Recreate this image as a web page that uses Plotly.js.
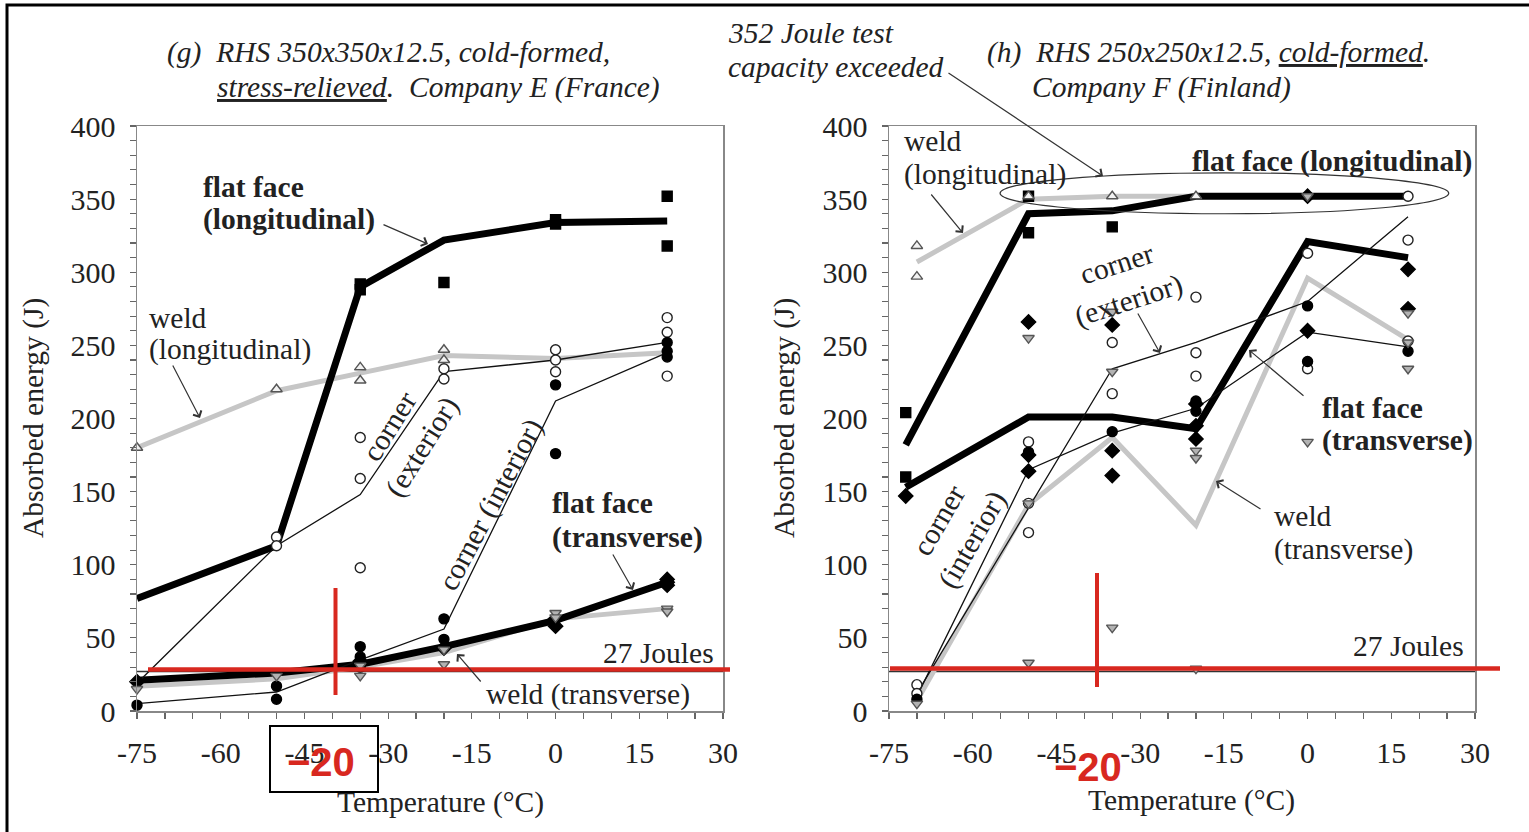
<!DOCTYPE html>
<html>
<head>
<meta charset="utf-8">
<script src="https://cdn.plot.ly/plotly-3.0.1.min.js"></script>
<style>html,body{margin:0;padding:0;background:#fff;}#chart{width:1529px;height:832px;}</style>
</head>
<body>
<div id="chart"></div>
<script>
// ---------- DATA ----------
// Panel (g): RHS 350x350x12.5, cold-formed, stress-relieved, Company E (France)
const g_ffl_line_x = [-75,-50,-35,-20,0,20];
const g_ffl_line_y = [77,113,290,322,334,335];
const g_ffl_pts_x = [-35,-35,-20,0,0,20,20];
const g_ffl_pts_y = [292,288,293,336,333,352,318];

const g_wl_line_x = [-75,-50,-35,-20,0,20];
const g_wl_line_y = [180,219,231,243,241,245];
const g_wl_pts_x = [-75,-50,-35,-35,-20,-20];
const g_wl_pts_y = [180,220,235,226,247,240];

const g_ce_line_x = [-75,-50,-35,-20,0,20];
const g_ce_line_y = [19,113,148,232,240,252];
const g_ce_pts_x = [-50,-50,-35,-35,-35,-20,-20,0,0,0,20,20,20];
const g_ce_pts_y = [119,113,187,159,98,234,227,247,240,232,269,259,229];

const g_ci_line_x = [-75,-50,-35,-20,0,20];
const g_ci_line_y = [5,13,35,56,212,245];
const g_ci_pts_x = [-75,-50,-50,-35,-35,-35,-20,-20,0,0,20,20,20];
const g_ci_pts_y = [4,17,8,44,37,30,63,49,223,176,252,242,246];

const g_fft_line_x = [-75,-50,-35,-20,0,20];
const g_fft_line_y = [21,26,32,44,62,88];
const g_fft_pts_x = [-75,-35,-20,0,0,20,20,20];
const g_fft_pts_y = [20,34,43,58,63,90,86,88];

const g_wt_line_x = [-75,-50,-35,-20,0,20];
const g_wt_line_y = [17,22,30,40,63,70];
const g_wt_pts_x = [-75,-50,-35,-35,-20,-20,0,0,20,20];
const g_wt_pts_y = [15,24,24,31,32,42,67,64,70,68];

// Panel (h): RHS 250x250x12.5, cold-formed, Company F (Finland)
const h_ffl_line_x = [-72,-50,-35,-20,0,18];
const h_ffl_line_y = [182,340,342,352,352,352];
const h_ffl_pts_x = [-72,-72,-50,-50,-35];
const h_ffl_pts_y = [204,160,352,327,331];

const h_wl_line_x = [-70,-50,-35,-20,0,18];
const h_wl_line_y = [307,350,352,352,352,352];
const h_wl_pts_x = [-70,-70,-50,-35,-20];
const h_wl_pts_y = [318,297,352,352,352];

const h_fft_line_x = [-72,-50,-35,-20,0,18];
const h_fft_line_y = [153,201,201,193,321,310];
const h_fft_pts_x = [-72,-50,-50,-50,-35,-35,-35,-20,-20,-20,0,0,18,18];
const h_fft_pts_y = [147,266,175,164,264,178,161,210,195,186,260,352,302,275];

const h_ce_line_x = [-70,-35,-20,0,18];
const h_ce_line_y = [12,234,252,280,338];
const h_ce_pts_x = [-70,-70,-50,-50,-50,-35,-35,-20,-20,-20,0,0,18,18,18];
const h_ce_pts_y = [18,12,184,142,122,252,217,283,245,229,313,234,322,253,352];

const h_ci_line_x = [-70,-50,-35,-20,0,18];
const h_ci_line_y = [10,165,190,207,259,249];
const h_ci_pts_x = [-70,-50,-35,-20,-20,0,0,18];
const h_ci_pts_y = [8,177,191,212,205,277,239,246];

const h_wt_line_x = [-70,-50,-35,-20,0,18];
const h_wt_line_y = [7,141,187,127,296,254];
const h_wt_pts_x = [-70,-50,-50,-50,-35,-35,-35,-20,-20,-20,0,0,18,18,18];
const h_wt_pts_y = [5,255,142,33,273,232,57,178,173,29,352,184,272,234,252];

const x_tick_vals = [-75,-60,-45,-30,-15,0,15,30];
const x_tick_text = ['-75','-60','-45','-30','-15','0','15','30'];
const y_tick_vals = [0,50,100,150,200,250,300,350,400];
const y_tick_text = ['0','50','100','150','200','250','300','350','400'];
const limit_27J = 27;

// ---------- STYLE / HELPERS ----------
const W = 1529, H = 832;
const P = x => x / W;
const Q = y => 1 - y / H;
const SERIF = 'Liberation Serif, Times New Roman, serif';
const FS = 29.5;
const TXT = '#222';
const GRAY_LINE = '#c6c6c6';

function lineTr(x, y, color, width, xa, ya) {
  return {x, y, xaxis: xa, yaxis: ya, type: 'scatter', mode: 'lines',
    line: {color, width, shape: 'linear'}, hoverinfo: 'skip', cliponaxis: false};
}
function markTr(x, y, symbol, fill, lc, size, xa, ya) {
  return {x, y, xaxis: xa, yaxis: ya, type: 'scatter', mode: 'markers',
    marker: {symbol, color: fill, size, line: {color: lc, width: 1.4}}, hoverinfo: 'skip', cliponaxis: false};
}
function panel(p, xa, ya) {
  return {
    lines: [
      lineTr(p.wl[0], p.wl[1], GRAY_LINE, 5, xa, ya),
      lineTr(p.wt[0], p.wt[1], GRAY_LINE, 5, xa, ya),
      lineTr(p.ffl[0], p.ffl[1], '#000', 7, xa, ya),
      lineTr(p.fft[0], p.fft[1], '#000', 7, xa, ya),
      lineTr(p.ce[0], p.ce[1], '#111', 1.3, xa, ya),
      lineTr(p.ci[0], p.ci[1], '#111', 1.3, xa, ya)
    ],
    marks: [
      markTr(p.ce[2], p.ce[3], 'circle', '#fff', '#222', 10, xa, ya),
      markTr(p.ci[2], p.ci[3], 'circle', '#000', '#000', 10, xa, ya),
      markTr(p.ffl[2], p.ffl[3], 'square', '#000', '#000', 10, xa, ya),
      markTr(p.fft[2], p.fft[3], 'diamond', '#000', '#000', 11, xa, ya),
      markTr(p.wl[2], p.wl[3], 'triangle-up', '#f2f2f2', '#555', 10, xa, ya),
      markTr(p.wt[2], p.wt[3], 'triangle-down', '#b3b3b3', '#555', 10, xa, ya)
    ]
  };
}
const pg = panel({
  ffl: [g_ffl_line_x, g_ffl_line_y, g_ffl_pts_x, g_ffl_pts_y],
  wl: [g_wl_line_x, g_wl_line_y, g_wl_pts_x, g_wl_pts_y],
  ce: [g_ce_line_x, g_ce_line_y, g_ce_pts_x, g_ce_pts_y],
  ci: [g_ci_line_x, g_ci_line_y, g_ci_pts_x, g_ci_pts_y],
  fft: [g_fft_line_x, g_fft_line_y, g_fft_pts_x, g_fft_pts_y],
  wt: [g_wt_line_x, g_wt_line_y, g_wt_pts_x, g_wt_pts_y]
}, 'x', 'y');
const ph = panel({
  ffl: [h_ffl_line_x, h_ffl_line_y, h_ffl_pts_x, h_ffl_pts_y],
  wl: [h_wl_line_x, h_wl_line_y, h_wl_pts_x, h_wl_pts_y],
  ce: [h_ce_line_x, h_ce_line_y, h_ce_pts_x, h_ce_pts_y],
  ci: [h_ci_line_x, h_ci_line_y, h_ci_pts_x, h_ci_pts_y],
  fft: [h_fft_line_x, h_fft_line_y, h_fft_pts_x, h_fft_pts_y],
  wt: [h_wt_line_x, h_wt_line_y, h_wt_pts_x, h_wt_pts_y]
}, 'x2', 'y2');
const data = [...pg.lines, ...ph.lines, ...pg.marks, ...ph.marks];

function xAxis(domain, anchor) {
  return {domain, anchor, range: [-75, 30], tickmode: 'array', tickvals: x_tick_vals, ticktext: x_tick_text,
    ticks: 'outside', ticklen: 6, tickwidth: 1.2, tickcolor: '#666',
    minor: {tickmode: 'linear', tick0: -75, dtick: 5, ticks: 'outside', ticklen: 6, tickwidth: 1.2, tickcolor: '#666'},
    showline: true, linecolor: '#888', linewidth: 1.5, mirror: true, showgrid: false, zeroline: false,
    tickfont: {family: SERIF, size: 30, color: TXT}, ticklabelstandoff: 8, fixedrange: true};
}
function yAxis(anchor) {
  return {domain: [1 - 711 / H, 1 - 126 / H], anchor, range: [0, 400], tickmode: 'array', tickvals: y_tick_vals, ticktext: y_tick_text,
    ticks: 'outside', ticklen: 6, tickwidth: 1.2, tickcolor: '#666',
    minor: {tickmode: 'linear', tick0: 0, dtick: 10, ticks: 'outside', ticklen: 6, tickwidth: 1.2, tickcolor: '#666'},
    showline: true, linecolor: '#888', linewidth: 1.5, mirror: true, showgrid: false, zeroline: false,
    tickfont: {family: SERIF, size: 30, color: TXT}, ticklabelstandoff: 8, fixedrange: true};
}

const RED = '#d8281f';
const shapes = [
  // 27 J requirement lines
  {type: 'line', xref: 'x', yref: 'y', x0: -75, x1: 30, y0: limit_27J, y1: limit_27J, line: {color: '#333', width: 1.4}, layer: 'below'},
  {type: 'line', xref: 'x2', yref: 'y2', x0: -75, x1: 30, y0: limit_27J, y1: limit_27J, line: {color: '#333', width: 1.4}, layer: 'below'},
  // 352 J capacity ellipse
  {type: 'circle', xref: 'x2', yref: 'y2', x0: -55.1, x1: 25.3, y0: 340, y1: 368, line: {color: '#333', width: 1.2}},
  // red overlays
  {type: 'line', xref: 'paper', yref: 'paper', x0: P(148), x1: P(730), y0: Q(669.5), y1: Q(669.5), line: {color: RED, width: 4.5}},
  {type: 'line', xref: 'paper', yref: 'paper', x0: P(335.5), x1: P(335.5), y0: Q(588), y1: Q(695), line: {color: RED, width: 4}},
  {type: 'line', xref: 'paper', yref: 'paper', x0: P(890), x1: P(1500), y0: Q(668.5), y1: Q(668.5), line: {color: RED, width: 4.5}},
  {type: 'line', xref: 'paper', yref: 'paper', x0: P(1097), x1: P(1097), y0: Q(573), y1: Q(687), line: {color: RED, width: 4}},
  // box around left -20
  {type: 'rect', xref: 'paper', yref: 'paper', x0: P(270), x1: P(378), y0: Q(726), y1: Q(792), line: {color: '#000', width: 2}},
  // outer frame
  {type: 'rect', xref: 'paper', yref: 'paper', x0: P(7), x1: 1.02, y0: Q(5), y1: -0.02, line: {color: '#000', width: 3}}
];

function txt(text, x, y, opt) {
  return Object.assign({xref: 'paper', yref: 'paper', x: P(x), y: Q(y), text, showarrow: false,
    xanchor: 'left', yanchor: 'middle', font: {family: SERIF, size: FS, color: TXT}}, opt || {});
}
function arrow(tx, ty, hx, hy) {
  return {xref: 'paper', yref: 'paper', x: P(hx), y: Q(hy), ax: tx - hx, ay: ty - hy, axref: 'pixel', ayref: 'pixel',
    text: '', showarrow: true, arrowhead: 4, arrowsize: 1.5, arrowwidth: 1.2, arrowcolor: '#333', standoff: 0, startstandoff: 0};
}
const NB = '\u00a0';
const REDFONT = {family: 'Liberation Sans Narrow, Arial Narrow, Liberation Sans, Arial, sans-serif', size: 40, color: RED};
const annotations = [
  // titles
  txt('<i>(g)' + NB + NB + 'RHS 350x350x12.5, cold-formed,</i>', 165, 52),
  txt('<i><u>stress-relieved</u>.' + NB + NB + 'Company E (France)</i>', 215, 87),
  txt('<i>(h)' + NB + NB + 'RHS 250x250x12.5, <u>cold-formed</u>.</i>', 985, 52),
  txt('<i>Company F (Finland)</i>', 1030, 87),
  txt('<i>352 Joule test</i>', 726, 33),
  txt('<i>capacity exceeded</i>', 726, 67),
  arrow(947, 72, 1103, 176),
  // axis titles
  txt('Absorbed energy (J)', 33, 418, {xanchor: 'center', textangle: -90}),
  txt('Absorbed energy (J)', 784, 418, {xanchor: 'center', textangle: -90}),
  txt('Temperature (°C)', 440, 802, {xanchor: 'center'}),
  txt('Temperature (°C)', 1191, 800, {xanchor: 'center'}),
  // panel g labels
  txt('<b>flat face</b>', 201, 187),
  txt('<b>(longitudinal)</b>', 201, 220),
  arrow(382, 224, 428, 244),
  txt('weld', 147, 318),
  txt('(longitudinal)', 147, 350),
  arrow(172, 364, 200, 418),
  txt('corner<br>(exterior)', 405, 437, {xanchor: 'center', textangle: -58, align: 'center'}),
  txt('corner (interior)', 490, 505, {xanchor: 'center', textangle: -62}),
  txt('<b>flat face</b>', 550, 503),
  txt('<b>(transverse)</b>', 550, 537),
  arrow(612, 553, 633, 590),
  txt('27 Joules', 716, 653, {xanchor: 'right'}),
  txt('weld (transverse)', 484, 694),
  arrow(482, 683, 457, 654),
  // panel h labels
  txt('weld', 902, 141),
  txt('(longitudinal)', 902, 175),
  arrow(930, 193, 963, 233),
  txt('<b>flat face (longitudinal)</b>', 1190, 161),
  txt('corner<br>(exterior)', 1122, 282, {xanchor: 'center', textangle: -18, align: 'center'}),
  arrow(1137, 312, 1160, 353),
  txt('corner<br>(interior)', 955, 530, {xanchor: 'center', textangle: -60, align: 'center'}),
  txt('<b>flat face</b>', 1320, 408),
  txt('<b>(transverse)</b>', 1320, 441),
  arrow(1305, 397, 1249, 350),
  txt('weld', 1272, 516),
  txt('(transverse)', 1272, 549),
  arrow(1262, 510, 1216, 481),
  txt('27 Joules', 1466, 646, {xanchor: 'right'}),
  // red overlay labels
  txt('<b>\u221220</b>', 321, 762, {xanchor: 'center', font: REDFONT}),
  txt('<b>\u221220</b>', 1088, 767, {xanchor: 'center', font: REDFONT})
];

const layout = {
  width: W, height: H, margin: {l: 0, r: 0, t: 0, b: 0},
  paper_bgcolor: '#fff', plot_bgcolor: '#fff', showlegend: false,
  xaxis: xAxis([137 / W, 723 / W], 'y'),
  yaxis: yAxis('x'),
  xaxis2: xAxis([889 / W, 1475 / W], 'y2'),
  yaxis2: yAxis('x2'),
  shapes, annotations
};
Plotly.newPlot('chart', data, layout, {displayModeBar: false, staticPlot: true});
</script>
</body>
</html>
